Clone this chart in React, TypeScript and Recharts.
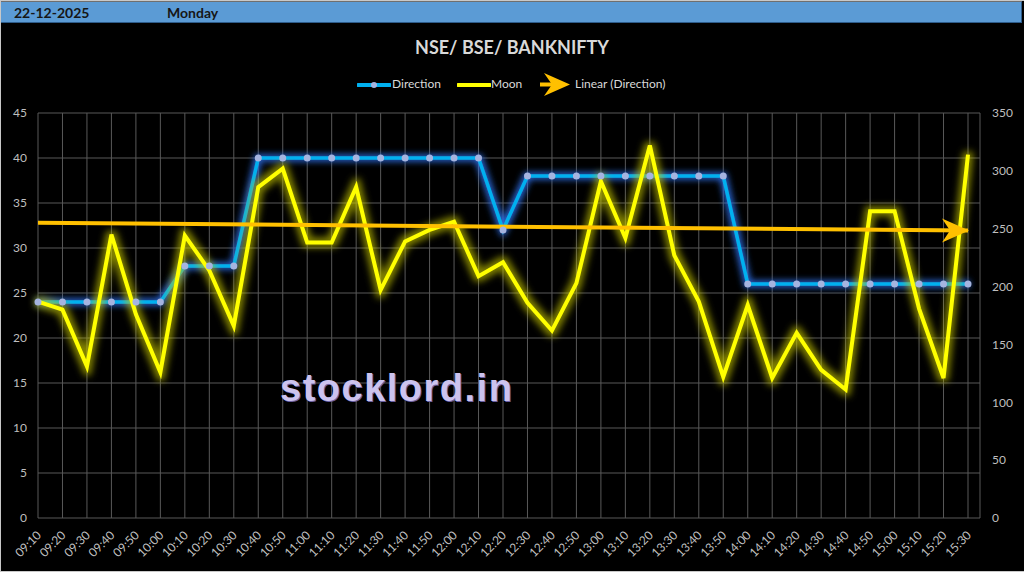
import { LineChart, Line, CartesianGrid, XAxis, YAxis } from 'recharts';

const times = [
  '09:10', '09:20', '09:30', '09:40', '09:50', '10:00', '10:10', '10:20', '10:30', '10:40',
  '10:50', '11:00', '11:10', '11:20', '11:30', '11:40', '11:50', '12:00', '12:10', '12:20',
  '12:30', '12:40', '12:50', '13:00', '13:10', '13:20', '13:30', '13:40', '13:50', '14:00',
  '14:10', '14:20', '14:30', '14:40', '14:50', '15:00', '15:10', '15:20', '15:30',
];

const direction = [
  24, 24, 24, 24, 24, 24, 28, 28, 28, 40,
  40, 40, 40, 40, 40, 40, 40, 40, 40, 32,
  38, 38, 38, 38, 38, 38, 38, 38, 38, 26,
  26, 26, 26, 26, 26, 26, 26, 26, 26,
];

const moon = [
  187, 180, 131, 245, 176, 126, 244, 214, 166, 286,
  302, 238, 238, 286, 197, 239, 249, 256, 209, 221,
  186, 162, 203, 291, 242, 322, 227, 187, 122, 184,
  121, 160, 128, 111, 265, 265, 181, 121, 314,
];

// trendline ends (Linear (Direction)), read at first and last category
const trendEnds = [32.8, 31.95];

const leftTicks = [0, 5, 10, 15, 20, 25, 30, 35, 40, 45];
const rightTicks = [0, 50, 100, 150, 200, 250, 300, 350];

const chartData = times.map((t, i) => ({
  time: t,
  direction: direction[i],
  moon: moon[i],
  trend: i === 0 ? trendEnds[0] : i === times.length - 1 ? trendEnds[1] : null,
}));

const FONT = 'Lato, "Open Sans", sans-serif';
const LABEL = '#bfbfbf';

const TimeTick = (props: any) => {
  const { x, y, payload } = props;
  const ax = x + 4;
  const ay = y + 10;
  return (
    <text
      x={ax}
      y={ay}
      transform={`rotate(-45 ${ax} ${ay})`}
      textAnchor="end"
      fontSize={12}
      fontFamily={FONT}
      fill={LABEL}
    >
      {payload.value}
    </text>
  );
};

const ArrowDot = (props: any) => {
  const { cx, cy, index } = props;
  if (index !== times.length - 1 || cx == null || cy == null) return <g key={`a${index}`} />;
  return (
    <polygon
      key={`a${index}`}
      points={`${cx + 1},${cy} ${cx - 26},${cy - 12} ${cx - 18},${cy} ${cx - 26},${cy + 12}`}
      fill="#FFC000"
    />
  );
};

const App = () => {
  return (
    <div
      style={{
        position: 'fixed',
        left: 0,
        top: 0,
        width: 1024,
        height: 572,
        background: '#000',
        fontFamily: FONT,
        overflow: 'hidden',
      }}
    >
      <style>{`
        .dir-line { filter: url(#glowBlue); }
        .moon-line { filter: url(#glowYellow); }
      `}</style>

      <svg width={0} height={0} style={{ position: 'absolute' }}>
        <defs>
          <filter id="glowBlue" filterUnits="userSpaceOnUse" x={0} y={0} width={1024} height={572}>
            <feMorphology in="SourceAlpha" operator="dilate" radius={2} result="d" />
            <feGaussianBlur in="d" stdDeviation={3} result="b" />
            <feFlood floodColor="#2a6ae0" floodOpacity={0.9} />
            <feComposite in2="b" operator="in" result="g" />
            <feMerge>
              <feMergeNode in="g" />
              <feMergeNode in="SourceGraphic" />
            </feMerge>
          </filter>
          <filter id="glowYellow" filterUnits="userSpaceOnUse" x={0} y={0} width={1024} height={572}>
            <feMorphology in="SourceAlpha" operator="dilate" radius={2.5} result="d" />
            <feGaussianBlur in="d" stdDeviation={3.5} result="b" />
            <feFlood floodColor="#c8c800" floodOpacity={0.65} />
            <feComposite in2="b" operator="in" result="g" />
            <feMerge>
              <feMergeNode in="g" />
              <feMergeNode in="SourceGraphic" />
            </feMerge>
          </filter>
        </defs>
      </svg>

      {/* frame */}
      <div style={{ position: 'absolute', left: 0, top: 0, width: 1024, height: 1, background: '#c8c8c8' }} />
      <div style={{ position: 'absolute', left: 0, top: 0, width: 1, height: 572, background: '#c8c8c8' }} />
      <div style={{ position: 'absolute', left: 0, top: 571, width: 1024, height: 1, background: '#c8c8c8' }} />

      {/* header bar */}
      <div
        style={{
          position: 'absolute',
          left: 1,
          top: 1,
          width: 1020,
          height: 20,
          background: '#5B9BD5',
          borderRight: '1px solid #2e5c8a',
          borderBottom: '1px solid #2e5c8a',
          borderTop: '1px solid #6f6f6f',
        }}
      >
        <span style={{ position: 'absolute', left: 13, top: 2, fontSize: 14, fontWeight: 700, color: '#161616' }}>
          22-12-2025
        </span>
        <span style={{ position: 'absolute', left: 166, top: 2, fontSize: 14, fontWeight: 700, color: '#161616' }}>
          Monday
        </span>
      </div>

      {/* title */}
      <div
        style={{
          position: 'absolute',
          left: 0,
          top: 36,
          width: 1024,
          textAlign: 'center',
          fontSize: 18,
          fontWeight: 700,
          color: '#d9d9d9',
        }}
      >
        NSE/ BSE/ BANKNIFTY
      </div>

      {/* legend */}
      <div style={{ position: 'absolute', left: 0, top: 72, width: 1024, height: 25, fontSize: 12, color: '#d9d9d9' }}>
        <svg style={{ position: 'absolute', left: 357, top: 8 }} width={34} height={10}>
          <line x1={1} y1={5} x2={33} y2={5} stroke="#00B0F0" strokeWidth={4} strokeLinecap="round" />
          <circle cx={17} cy={5} r={3} fill="#A5B4E0" />
        </svg>
        <span style={{ position: 'absolute', left: 392, top: 4 }}>Direction</span>
        <svg style={{ position: 'absolute', left: 457, top: 8 }} width={34} height={10}>
          <line x1={1} y1={5} x2={33} y2={5} stroke="#FFFF00" strokeWidth={4} strokeLinecap="round" />
        </svg>
        <span style={{ position: 'absolute', left: 491, top: 4 }}>Moon</span>
        <svg style={{ position: 'absolute', left: 539, top: 0 }} width={32} height={25}>
          <line x1={1} y1={12.5} x2={24} y2={12.5} stroke="#FFC000" strokeWidth={4} />
          <polygon points="31,12.5 5,1 13,12.5 5,24" fill="#FFC000" />
        </svg>
        <span style={{ position: 'absolute', left: 575, top: 4 }}>Linear (Direction)</span>
      </div>

      <div style={{ position: 'absolute', left: 0, top: 0 }}>
        <LineChart
          width={1024}
          height={572}
          data={chartData}
          margin={{ top: 113, right: 0, bottom: 0, left: 0 }}
        >
          <CartesianGrid yAxisId="left" stroke="#595959" strokeWidth={1} />
          <XAxis
            dataKey="time"
            scale="point"
            interval={0}
            height={54}
            padding={{ left: 0, right: 12 }}
            axisLine={false}
            tickLine={false}
            tick={<TimeTick />}
          />
          <YAxis
            yAxisId="left"
            orientation="left"
            width={38}
            domain={[0, 45]}
            ticks={leftTicks}
            axisLine={false}
            tickLine={false}
            tickMargin={5}
            tick={{ fill: LABEL, fontSize: 12, fontFamily: FONT }}
          />
          <YAxis
            yAxisId="right"
            orientation="right"
            width={44}
            domain={[0, 350]}
            ticks={rightTicks}
            axisLine={false}
            tickLine={false}
            tickMargin={6}
            tick={{ fill: LABEL, fontSize: 12, fontFamily: FONT }}
          />
          <Line
            yAxisId="left"
            className="dir-line"
            dataKey="direction"
            type="linear"
            stroke="#00B0F0"
            strokeWidth={3.5}
            dot={{ r: 3.5, fill: '#A5B4E0', stroke: 'none' }}
            isAnimationActive={false}
          />
          <Line
            yAxisId="right"
            className="moon-line"
            dataKey="moon"
            type="linear"
            stroke="#FFFF00"
            strokeWidth={4}
            dot={false}
            isAnimationActive={false}
          />
          <Line
            yAxisId="left"
            dataKey="trend"
            type="linear"
            stroke="#FFC000"
            strokeWidth={4}
            connectNulls
            dot={<ArrowDot />}
            isAnimationActive={false}
          />
        </LineChart>
      </div>

      {/* watermark */}
      <div
        style={{
          position: 'absolute',
          left: 280,
          top: 367,
          fontFamily: '"Liberation Sans", Arial, sans-serif',
          fontWeight: 700,
          fontSize: 38,
          letterSpacing: 1.5,
          color: '#CCC3EE',
          textShadow: '1px 1px 0 #6a5fa0',
        }}
      >
        stocklord.in
      </div>
    </div>
  );
};

export default App;
